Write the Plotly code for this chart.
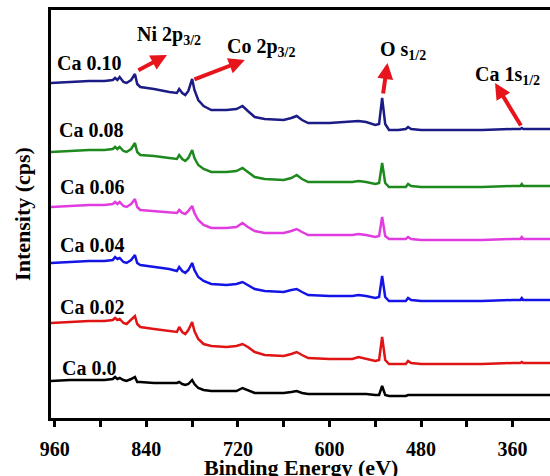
import plotly.graph_objects as go

# Binding energy grid (eV) at which the spectra were read
energy = [965, 940, 915, 895, 884, 881, 878, 875, 870, 866,
          860, 855, 852, 848, 830, 810, 800, 797, 793, 789,
          785, 780, 777, 772, 765, 755, 735, 722, 714, 707,
          698, 685, 660, 650, 643, 636, 628, 600, 570, 562,
          552, 540, 535, 531, 527, 522, 510, 500, 497, 493,
          480, 440, 400, 360, 350, 348, 346, 330, 311]

# Stacked intensities (a.u., offset for display)
ca_010 = [335, 336, 337, 337, 338, 340, 338, 341, 336, 335,
          338, 344, 334, 331, 329, 326, 325, 329, 325, 323,
          327, 339, 328, 318, 312, 308, 308, 309, 312, 307,
          301, 299, 298, 300, 302, 298, 295, 295, 296, 297,
          296, 293, 294, 320, 294, 288, 288, 289, 291, 289,
          288, 288, 288, 289, 289, 290, 289, 289, 289]
ca_008 = [266, 267, 268, 268, 269, 271, 269, 271, 267, 266,
          269, 275, 266, 263, 262, 260, 259, 263, 259, 257,
          260, 268, 260, 253, 249, 246, 246, 247, 250, 246,
          241, 239, 238, 240, 243, 239, 236, 236, 236, 237,
          236, 234, 235, 255, 235, 231, 231, 231, 234, 232,
          231, 231, 231, 232, 232, 234, 232, 232, 232]
ca_006 = [211, 212, 213, 213, 214, 216, 214, 216, 212, 211,
          214, 219, 211, 208, 207, 206, 205, 208, 205, 204,
          207, 212, 205, 198, 193, 190, 190, 191, 195, 191,
          187, 185, 185, 187, 189, 186, 183, 183, 183, 184,
          183, 181, 182, 201, 182, 179, 179, 179, 181, 179,
          178, 178, 178, 179, 179, 181, 179, 179, 179]
ca_004 = [155, 156, 157, 157, 158, 161, 159, 160, 156, 155,
          158, 163, 155, 153, 151, 149, 147, 151, 147, 145,
          148, 155, 148, 141, 137, 134, 133, 134, 136, 133,
          129, 127, 126, 128, 129, 126, 123, 122, 122, 123,
          122, 120, 121, 142, 121, 117, 117, 117, 120, 118,
          117, 117, 117, 118, 118, 120, 118, 118, 118]
ca_002 = [95, 96, 97, 97, 98, 100, 98, 99, 95, 94,
          98, 102, 94, 91, 89, 87, 86, 91, 86, 84,
          88, 96, 87, 79, 74, 72, 71, 72, 74, 71,
          66, 63, 62, 64, 66, 63, 60, 59, 59, 61,
          59, 57, 58, 81, 58, 54, 54, 54, 57, 55,
          54, 54, 54, 55, 55, 56, 55, 55, 55]
ca_000 = [37, 38, 38, 38, 39, 41, 39, 40, 38, 37,
          39, 41, 36, 36, 35, 35, 35, 36, 34, 33,
          34, 38, 34, 30, 28, 27, 27, 27, 30, 28,
          25, 25, 25, 26, 27, 25, 24, 24, 24, 24,
          24, 23, 23, 32, 23, 22, 22, 22, 23, 23,
          23, 23, 23, 23, 23, 23, 23, 23, 23]

series_names = ["Ca 0.10", "Ca 0.08", "Ca 0.06", "Ca 0.04", "Ca 0.02", "Ca 0.0"]
series_values = [ca_010, ca_008, ca_006, ca_004, ca_002, ca_000]
series_colors = ["#1c1c86", "#1e8a1e", "#e03ce0", "#1414e6", "#e01414", "#000000"]

# label anchor positions (eV, intensity)
label_x = [960, 957, 956, 956, 956, 953]
label_y = [355, 288, 231, 173, 111, 50]

x_ticks = [960, 840, 720, 600, 480, 360]

FONT = "Liberation Serif"

fig = go.Figure()
for name, vals, col in zip(series_names, series_values, series_colors):
    fig.add_trace(go.Scatter(x=energy, y=vals, mode="lines", name=name,
                             line=dict(color=col, width=2.5), showlegend=False))

annotations = []
for name, lx, ly in zip(series_names, label_x, label_y):
    annotations.append(dict(x=lx, y=ly, xref="x", yref="y", text=name,
                            showarrow=False, xanchor="left", yanchor="middle",
                            font=dict(family=FONT, size=20, color="black", weight="bold")))

peak_labels = [
    ("Ni 2p<sub>3/2</sub>", 855, 383),
    ("Co 2p<sub>3/2</sub>", 737, 371),
    ("O s<sub>1/2</sub>", 537, 368),
    ("Ca 1s<sub>1/2</sub>", 412, 343),
]
for txt, px, py in peak_labels:
    annotations.append(dict(x=px, y=py, xref="x", yref="y", text=txt,
                            showarrow=False, xanchor="left", yanchor="middle",
                            font=dict(family=FONT, size=20, color="black", weight="bold")))

# arrows: (tail eV, tail int, head eV, head int)
arrows = [
    (852.5, 347, 813, 363),
    (779, 338, 711, 358),
    (530, 323, 524, 355),
    (348, 291, 383, 335),
]
for tx, ty, hx, hy in arrows:
    annotations.append(dict(x=hx, y=hy, ax=tx, ay=ty, xref="x", yref="y",
                            axref="x", ayref="y", text="", showarrow=True,
                            arrowhead=2, arrowsize=0.8, arrowwidth=4,
                            arrowcolor="#e8141c", standoff=0, startstandoff=0,
                            font=dict(size=1)))

# x-axis title, placed low like the reference (partly below the page edge)
annotations.append(dict(x=0.5, y=-0.1225, xref="paper", yref="paper",
                        text="Binding Energy (eV)", showarrow=False,
                        xanchor="center", yanchor="middle",
                        font=dict(family=FONT, size=22, color="black", weight="bold")))

fig.update_layout(
    width=550, height=476,
    margin=dict(l=51, r=0, t=10, b=58),
    paper_bgcolor="white", plot_bgcolor="white",
    annotations=annotations,
    font=dict(family=FONT, color="black"),
)
fig.update_xaxes(
    range=[965, 311], showgrid=False, zeroline=False, automargin=False,
    showline=True, linecolor="black", linewidth=2.5, mirror=True,
    tickmode="array", tickvals=x_ticks, ticktext=[str(v) for v in x_ticks],
    ticks="outside", ticklen=6, tickwidth=2.5, tickcolor="black",
    ticklabelstandoff=5,
    minor=dict(tick0=0, dtick=60, ticks="outside", ticklen=6, tickwidth=2.5, tickcolor="black"),
    tickfont=dict(family=FONT, size=20, color="black", weight="bold"),
)
fig.update_yaxes(
    range=[0, 408], showgrid=False, zeroline=False, automargin=False,
    showline=True, linecolor="black", linewidth=2.5, mirror=False,
    showticklabels=False, ticks="",
    title=dict(text="Intensity (cps)", standoff=12,
               font=dict(family=FONT, size=22, color="black", weight="bold")),
)

fig.write_html(
    "out.html",
    config={"displayModeBar": False},
    post_script="document.body.style.margin='0';document.body.style.overflow='hidden';",
)
